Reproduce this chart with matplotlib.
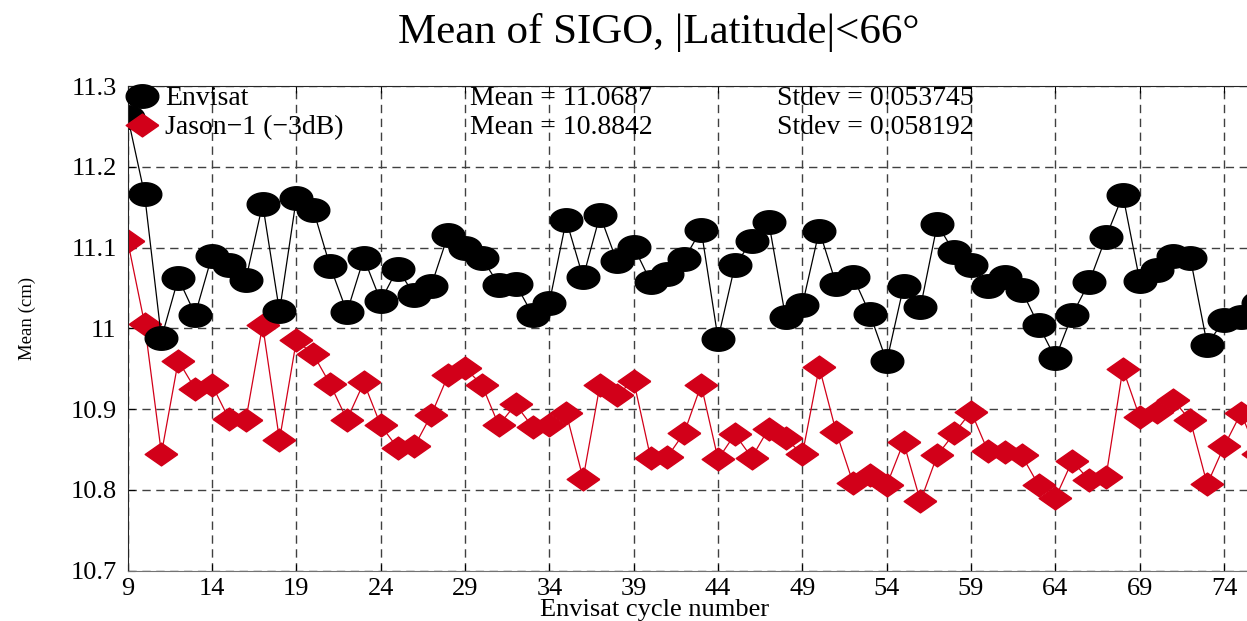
import numpy as np
import matplotlib
matplotlib.use("Agg")
from matplotlib import pyplot as plt

plt.rcParams['font.family'] = ['Liberation Serif', 'DejaVu Serif']

cycles = list(range(9, 77))

envisat = [11.262, 11.166, 10.988, 11.062, 11.017, 11.090, 11.078, 11.060, 11.154, 11.021,
           11.161, 11.147, 11.077, 11.020, 11.087, 11.034, 11.074, 11.041, 11.053, 11.116,
           11.099, 11.087, 11.054, 11.055, 11.017, 11.032, 11.134, 11.063, 11.140, 11.083,
           11.101, 11.058, 11.067, 11.086, 11.122, 10.987, 11.078, 11.108, 11.132, 11.014,
           11.029, 11.121, 11.055, 11.064, 11.018, 10.959, 11.052, 11.026, 11.129, 11.094,
           11.078, 11.052, 11.063, 11.047, 11.004, 10.963, 11.017, 11.057, 11.113, 11.165,
           11.059, 11.072, 11.090, 11.087, 10.980, 11.010, 11.014, 11.031]

jason = [11.108, 11.006, 10.845, 10.960, 10.925, 10.930, 10.888, 10.886, 11.004, 10.862,
         10.985, 10.968, 10.931, 10.887, 10.933, 10.880, 10.852, 10.854, 10.893, 10.942,
         10.951, 10.930, 10.880, 10.906, 10.878, 10.880, 10.895, 10.814, 10.930, 10.918,
         10.935, 10.840, 10.841, 10.871, 10.930, 10.838, 10.869, 10.840, 10.876, 10.864,
         10.844, 10.952, 10.872, 10.809, 10.819, 10.806, 10.859, 10.786, 10.843, 10.870,
         10.897, 10.848, 10.847, 10.843, 10.806, 10.790, 10.836, 10.812, 10.816, 10.950,
         10.890, 10.897, 10.911, 10.886, 10.807, 10.854, 10.895, 10.845]

xticks = list(range(9, 75, 5))
yticks = [10.7, 10.8, 10.9, 11.0, 11.1, 11.2, 11.3]
ytick_labels = ['10.7', '10.8', '10.9', '11', '11.1', '11.2', '11.3']

stats_env = ('Mean = 11.0687', 'Stdev = 0.053745')
stats_jas = ('Mean = 10.8842', 'Stdev = 0.058192')

# the picture is stretched sideways, so markers are flattened ellipses / diamonds
t = np.linspace(0, 2 * np.pi, 60)
ellipse = list(zip(np.cos(t), 0.72 * np.sin(t)))
diamond = [(1, 0), (0, 0.7), (-1, 0), (0, -0.7), (1, 0)]

red = '#d20019'

fig = plt.figure(figsize=(12.47, 6.21), dpi=100)
ax = fig.add_axes([0.1024, 0.081, 0.8976, 0.7805])

l_jas, = ax.plot(cycles, jason, color=red, lw=0.9, marker=diamond, ms=23.5,
                 mfc=red, mec=red, label='Jason\u22121 (\u22123dB)')
l_env, = ax.plot(cycles, envisat, color='black', lw=0.9, marker=ellipse, ms=23.5,
                 mfc='black', mec='black', label='Envisat')

ax.set_xlim(9, 75.36)
ax.set_ylim(10.7, 11.3)
ax.set_xticks(xticks)
ax.set_yticks(yticks)
ax.set_yticklabels(ytick_labels)
ax.tick_params(direction='in', length=5, labelsize=19, top=True)
ax.tick_params(axis='x', pad=5)
ax.tick_params(axis='y', pad=8)

ax.grid(True, color='0.25', linestyle=(0, (6, 4)), linewidth=1.0)
ax.set_axisbelow(True)

ax.spines['right'].set_visible(False)
ax.spines['bottom'].set_color('0.45')
for s in ['left', 'top']:
    ax.spines[s].set_color('0.15')

ax.set_xlabel('Envisat cycle number', fontsize=19, va='bottom')
ax.xaxis.set_label_coords(0.471, -0.103)
ax.set_ylabel('Mean (cm)', fontsize=13.5, va='center', ha='center')
ax.yaxis.set_label_coords(-0.090, 0.52)

ax.legend(handles=[l_env, l_jas], loc='upper left', bbox_to_anchor=(0.0, 1.0),
          frameon=False, fontsize=20, handlelength=1.0, handletextpad=0.35,
          borderaxespad=0, borderpad=0, labelspacing=0.12)

ax.text(0.306, 0.975, stats_env[0], transform=ax.transAxes, fontsize=20, va='center')
ax.text(0.580, 0.975, stats_env[1], transform=ax.transAxes, fontsize=20, va='center')
ax.text(0.306, 0.915, stats_jas[0], transform=ax.transAxes, fontsize=20, va='center')
ax.text(0.580, 0.915, stats_jas[1], transform=ax.transAxes, fontsize=20, va='center')

fig.text(0.528, 0.948, 'Mean of SIGO, |Latitude|<66\u00b0', fontsize=31,
         ha='center', va='center')

fig.savefig('out.png', dpi=100)
